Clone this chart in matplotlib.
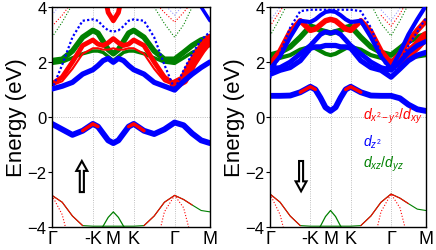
import numpy as np
import matplotlib
matplotlib.use("Agg")
import matplotlib.pyplot as plt

nan = np.nan

# k path: G -> -K -> M -> K -> G -> M
kpath = [0, 0.25, 0.5, 0.75, 1.0, 1.125, 1.25, 1.375, 1.5, 1.625, 1.75, 1.875,
         2.0, 2.25, 2.5, 2.75, 3.0, 3.22, 3.43, 3.65, 3.866]
kticks = [0, 1.0, 1.5, 2.0, 3.0, 3.866]
klabels = ['Γ', '-K', 'M', 'K', 'Γ', 'M']

# ---- spin up (left panel) ----
up_vb = [-0.25, -0.45, -0.65, -0.5, -0.25, -0.35, -0.6, -0.85, -0.95, -0.85, -0.6,
         -0.35, -0.25, -0.5, -0.62, -0.45, -0.2, -0.3, -0.6, -0.85, -0.95]
up_low = [-2.85, -3.1, -3.6, -3.95, -3.97, -3.97, -3.97, -3.97, -3.97, -3.97, -3.97,
          -3.97, -3.97, -3.95, -3.6, -3.1, -2.85, -3.0, -3.2, -3.4, -3.45]
up_low_dot = [-2.85, -3.55, -5.0, nan, nan, nan, nan, nan, nan, nan, nan,
              nan, nan, nan, -5.0, -3.45, -2.85, -3.3, -4.5, nan, nan]
up_bump = [nan, nan, nan, nan, -4.6, -4.25, -3.97, -3.65, -3.45, -3.65, -3.97,
           -4.25, -4.6, nan, nan, nan, nan, nan, nan, nan, nan]
up_c1 = [1.02, 1.12, 1.26, 1.56, 1.72, 1.87, 2.05, 2.13, 1.99, 2.13, 2.05,
         1.87, 1.72, 1.56, 1.26, 1.12, 0.98, 1.3, 1.56, 1.8, 2.0]
up_c2 = [1.0, 1.9, 2.9, 3.5, 3.55, 3.5, 3.3, 3.15, 3.1, 3.15, 3.3,
         3.5, 3.55, 3.5, 2.9, 1.9, 1.0, 1.7, 2.3, 2.8, 3.1]
up_c3 = [1.2, 1.45, 2.0, 2.6, 2.8, 2.65, 2.6, 2.7, 2.85, 2.7, 2.6,
         2.65, 2.8, 2.6, 2.0, 1.45, 1.18, 1.35, 1.95, 2.45, 2.85]
up_c4 = [2.05, 2.1, 2.4, 2.9, 3.15, 3.05, 2.75, 2.45, 2.3, 2.45, 2.75,
         3.05, 3.15, 2.9, 2.4, 2.1, 2.1, 2.35, 2.6, 2.8, 2.9]
up_c5 = [1.95, 2.0, 2.15, 2.3, 2.4, 2.4, 2.35, 2.2, 2.05, 2.2, 2.35,
         2.4, 2.4, 2.3, 2.15, 2.0, 1.95, 2.15, 2.35, 2.5, 2.6]
up_c6 = [1.15, 1.3, 1.75, 2.3, 2.5, 2.5, 2.45, 2.45, 2.5, 2.45, 2.45,
         2.5, 2.5, 2.3, 1.75, 1.3, 1.15, nan, nan, nan, nan]
up_c7 = [nan, nan, nan, nan, nan, nan, 4.7, 3.8, 3.5, 3.8, 4.7,
         nan, nan, nan, nan, nan, nan, nan, nan, nan, nan]
up_c8 = [nan, nan, nan, nan, nan, nan, nan, nan, nan, nan, nan,
         nan, nan, nan, nan, nan, nan, nan, 4.5, 4.0, 3.5]
up_dg = [2.9, 3.45, 4.1, nan, nan, nan, nan, nan, nan, nan, nan,
         nan, nan, nan, 4.0, 3.4, 2.9, 3.35, 4.0, nan, nan]
up_dr = [3.3, 3.7, 4.2, nan, nan, nan, nan, nan, nan, nan, nan,
         nan, nan, nan, 4.2, 3.8, 3.45, 3.8, 4.2, nan, nan]
up_db = [3.7, 4.2, nan, nan, nan, nan, nan, nan, nan, nan, nan,
         nan, nan, nan, nan, 4.1, 3.7, 4.1, nan, nan, nan]

# ---- spin down (right panel) ----
dn_vb = [0.77, 0.77, 0.78, 0.9, 1.1, 1.0, 0.7, 0.35, 0.22, 0.35, 0.7,
         1.0, 1.1, 0.9, 0.78, 0.77, 0.77, 0.68, 0.45, 0.28, 0.22]
dn_low = [-2.8, -3.1, -3.6, -3.95, -3.97, -3.97, -3.97, -3.97, -3.97, -3.97, -3.97,
          -3.97, -3.97, -3.95, -3.6, -3.1, -2.8, -2.95, -3.15, -3.35, -3.4]
dn_low_dot = [-2.8, -3.55, -5.0, nan, nan, nan, nan, nan, nan, nan, nan,
              nan, nan, nan, -5.0, -3.45, -2.8, -3.3, -4.5, nan, nan]
dn_bump = [nan, nan, nan, nan, -4.6, -4.25, -3.97, -3.62, -3.4, -3.62, -3.97,
           -4.25, -4.6, nan, nan, nan, nan, nan, nan, nan, nan]
dn_c1 = [1.55, 1.7, 1.8, 2.05, 2.5, 2.55, 2.55, 2.6, 2.6, 2.6, 2.55,
         2.55, 2.5, 2.05, 1.8, 1.7, 1.45, 1.75, 2.05, 2.25, 2.35]
dn_c2 = [1.4, 2.3, 3.25, 3.85, 3.9, 3.9, 3.9, 3.9, 3.9, 3.9, 3.9,
         3.9, 3.9, 3.85, 3.25, 2.3, 1.4, 2.0, 2.6, 3.1, 3.6]
dn_c3 = [1.75, 1.8, 2.0, 2.3, 2.6, 2.8, 3.0, 3.1, 3.05, 3.1, 3.0,
         2.8, 2.6, 2.3, 2.0, 1.8, 1.7, 2.0, 2.35, 2.6, 2.75]
dn_c4 = [1.75, 2.2, 2.9, 3.5, 3.45, 3.55, 3.7, 3.82, 3.85, 3.82, 3.7,
         3.55, 3.45, 3.5, 2.9, 2.2, 1.75, 2.35, 3.0, 3.55, 4.05]
dn_c5 = [1.9, 2.4, 3.1, 3.5, 3.15, 3.2, 3.35, 3.5, 3.55, 3.5, 3.35,
         3.2, 3.15, 3.5, 3.1, 2.4, 1.95, 2.3, 2.75, 3.15, 3.5]
dn_c5b = [nan, nan, nan, nan, nan, nan, nan, nan, nan, nan, nan,
          nan, nan, nan, nan, nan, 1.9, 2.0, 2.3, 2.6, 2.95]
dn_c6 = [2.25, 2.35, 2.55, 2.9, 3.3, 3.25, 3.15, 3.1, 3.05, 3.1, 3.15,
         3.25, 3.3, 2.9, 2.55, 2.35, 2.25, 2.5, 2.75, 2.9, 3.0]
dn_c7 = [2.1, 2.15, 2.25, 2.45, 2.55, 2.5, 2.4, 2.3, 2.25, 2.3, 2.4,
         2.5, 2.55, 2.45, 2.25, 2.15, 2.05, 2.1, 2.15, 2.2, 2.25]
dn_dg = [2.95, 3.6, 4.3, nan, nan, nan, nan, nan, nan, nan, nan,
         nan, nan, nan, 4.1, 3.4, 2.95, 3.5, 4.1, nan, nan]
dn_dr = [3.3, 3.85, 4.4, nan, nan, nan, nan, nan, nan, nan, nan,
         nan, nan, nan, nan, 3.7, 3.3, 3.75, 4.3, nan, nan]
dn_db = [3.5, 4.0, nan, nan, nan, nan, nan, nan, nan, nan, nan,
         nan, nan, nan, nan, 3.9, 3.5, 3.95, nan, nan, nan]

plt.rcParams['font.family'] = ['Liberation Sans', 'DejaVu Sans']
plt.rcParams['mathtext.fontset'] = 'custom'
plt.rcParams['mathtext.it'] = 'Liberation Sans:italic'
plt.rcParams['mathtext.rm'] = 'Liberation Sans'

RED = '#ff0000'
BLUE = '#0000ff'
GREEN = '#008000'

k = np.array(kpath)


def band(ax, e, color, lw, ls='-', i0=0, i1=None, z=2, alpha=1.0):
    e = np.array(e, dtype=float)
    if i1 is None:
        i1 = len(k)
    ax.plot(k[i0:i1], e[i0:i1], color=color, lw=lw, ls=ls, zorder=z,
            solid_capstyle='round', alpha=alpha)


def setup(ax):
    ax.set_xlim(0, kpath[-1])
    ax.set_ylim(-4, 4)
    ax.set_xticks(kticks)
    ax.set_xticklabels(klabels)
    ax.set_yticks([-4, -2, 0, 2, 4])
    ax.tick_params(axis='x', length=0, labelsize=13, pad=2)
    ax.tick_params(axis='y', length=3, labelsize=12, pad=1)
    for kk in kticks[1:-1]:
        ax.axvline(kk, color='#aaaaaa', lw=0.6, ls=':', zorder=1)
    ax.axhline(0, color='#aaaaaa', lw=0.6, ls=':', zorder=1)
    ax.set_ylabel('Energy (eV)', fontsize=16, labelpad=0)
    for s in ax.spines.values():
        s.set_linewidth(1.0)


fig = plt.figure(figsize=(4.36, 2.51), dpi=100)
axl = fig.add_axes([52 / 436, 23 / 251, 158 / 436, 220 / 251])
axr = fig.add_axes([270 / 436, 23 / 251, 156 / 436, 220 / 251])

# ---- left panel ----
ax = axl
setup(ax)
band(ax, up_low, GREEN, 0.8)
band(ax, up_low, RED, 0.8, i0=0, i1=4)
band(ax, up_low, RED, 0.8, i0=13, i1=19)
band(ax, up_low_dot, RED, 0.8, ls=':')
band(ax, up_bump, GREEN, 0.9)
band(ax, up_vb, BLUE, 4.2)
band(ax, up_vb, RED, 2.5, i0=3, i1=6, z=3)
band(ax, up_vb, RED, 2.5, i0=11, i1=14, z=3)
band(ax, up_dg, GREEN, 0.8, ls=':')
band(ax, up_dr, RED, 0.8, ls=':')
band(ax, up_db, BLUE, 0.8, ls=':', alpha=0.4)
band(ax, up_c5, GREEN, 2.5)
band(ax, up_c4, GREEN, 4)
band(ax, up_c6, RED, 1.5)
band(ax, up_c3, RED, 3.5)
band(ax, up_c3, RED, 7, i0=16)
band(ax, up_c1, BLUE, 3.8, z=3)
band(ax, up_c2, BLUE, 1.6, ls=(0, (1, 1)), z=3)
band(ax, up_c7, RED, 3.5)
band(ax, up_c8, BLUE, 2.5)
ax.arrow(0.73, -2.73, 0, 1.13, width=0.1, head_width=0.27, head_length=0.36,
         length_includes_head=True, fc='white', ec='black', lw=1.5, zorder=5)

# ---- right panel ----
ax = axr
setup(ax)
band(ax, dn_low, GREEN, 0.8)
band(ax, dn_low, RED, 0.8, i0=0, i1=4)
band(ax, dn_low, RED, 0.8, i0=13, i1=19)
band(ax, dn_low_dot, RED, 0.8, ls=':')
band(ax, dn_bump, GREEN, 0.9)
band(ax, dn_vb, BLUE, 4.2)
band(ax, dn_vb, RED, 2.5, i0=3, i1=6, z=3)
band(ax, dn_vb, RED, 2.5, i0=11, i1=14, z=3)
band(ax, dn_dg, GREEN, 0.8, ls=':')
band(ax, dn_dr, RED, 0.8, ls=':')
band(ax, dn_db, BLUE, 0.8, ls=':', alpha=0.4)
band(ax, dn_c7, GREEN, 3)
band(ax, dn_c6, GREEN, 4)
band(ax, dn_c5, RED, 4)
band(ax, dn_c5b, RED, 7)
band(ax, dn_c3, BLUE, 3.5, z=3)
band(ax, dn_c1, BLUE, 3.8, z=3)
band(ax, dn_c4, BLUE, 3, z=3)
band(ax, dn_c2, BLUE, 1.6, ls=(0, (1, 1)), z=3)
ax.arrow(0.77, -1.6, 0, -1.1, width=0.1, head_width=0.27, head_length=0.36,
         length_includes_head=True, fc='white', ec='black', lw=1.5, zorder=5)

ax.text(2.3, 0.07, r'$d_{x^2-y^2}/d_{xy}$', color=RED, fontsize=10,
        va='center', ha='left', zorder=6)
ax.text(2.3, -0.87, r'$d_{z^2}$', color=BLUE, fontsize=10,
        va='center', ha='left', zorder=6)
ax.text(2.3, -1.67, r'$d_{xz}/d_{yz}$', color=GREEN, fontsize=10,
        va='center', ha='left', zorder=6)

fig.savefig('out.png', dpi=100)
